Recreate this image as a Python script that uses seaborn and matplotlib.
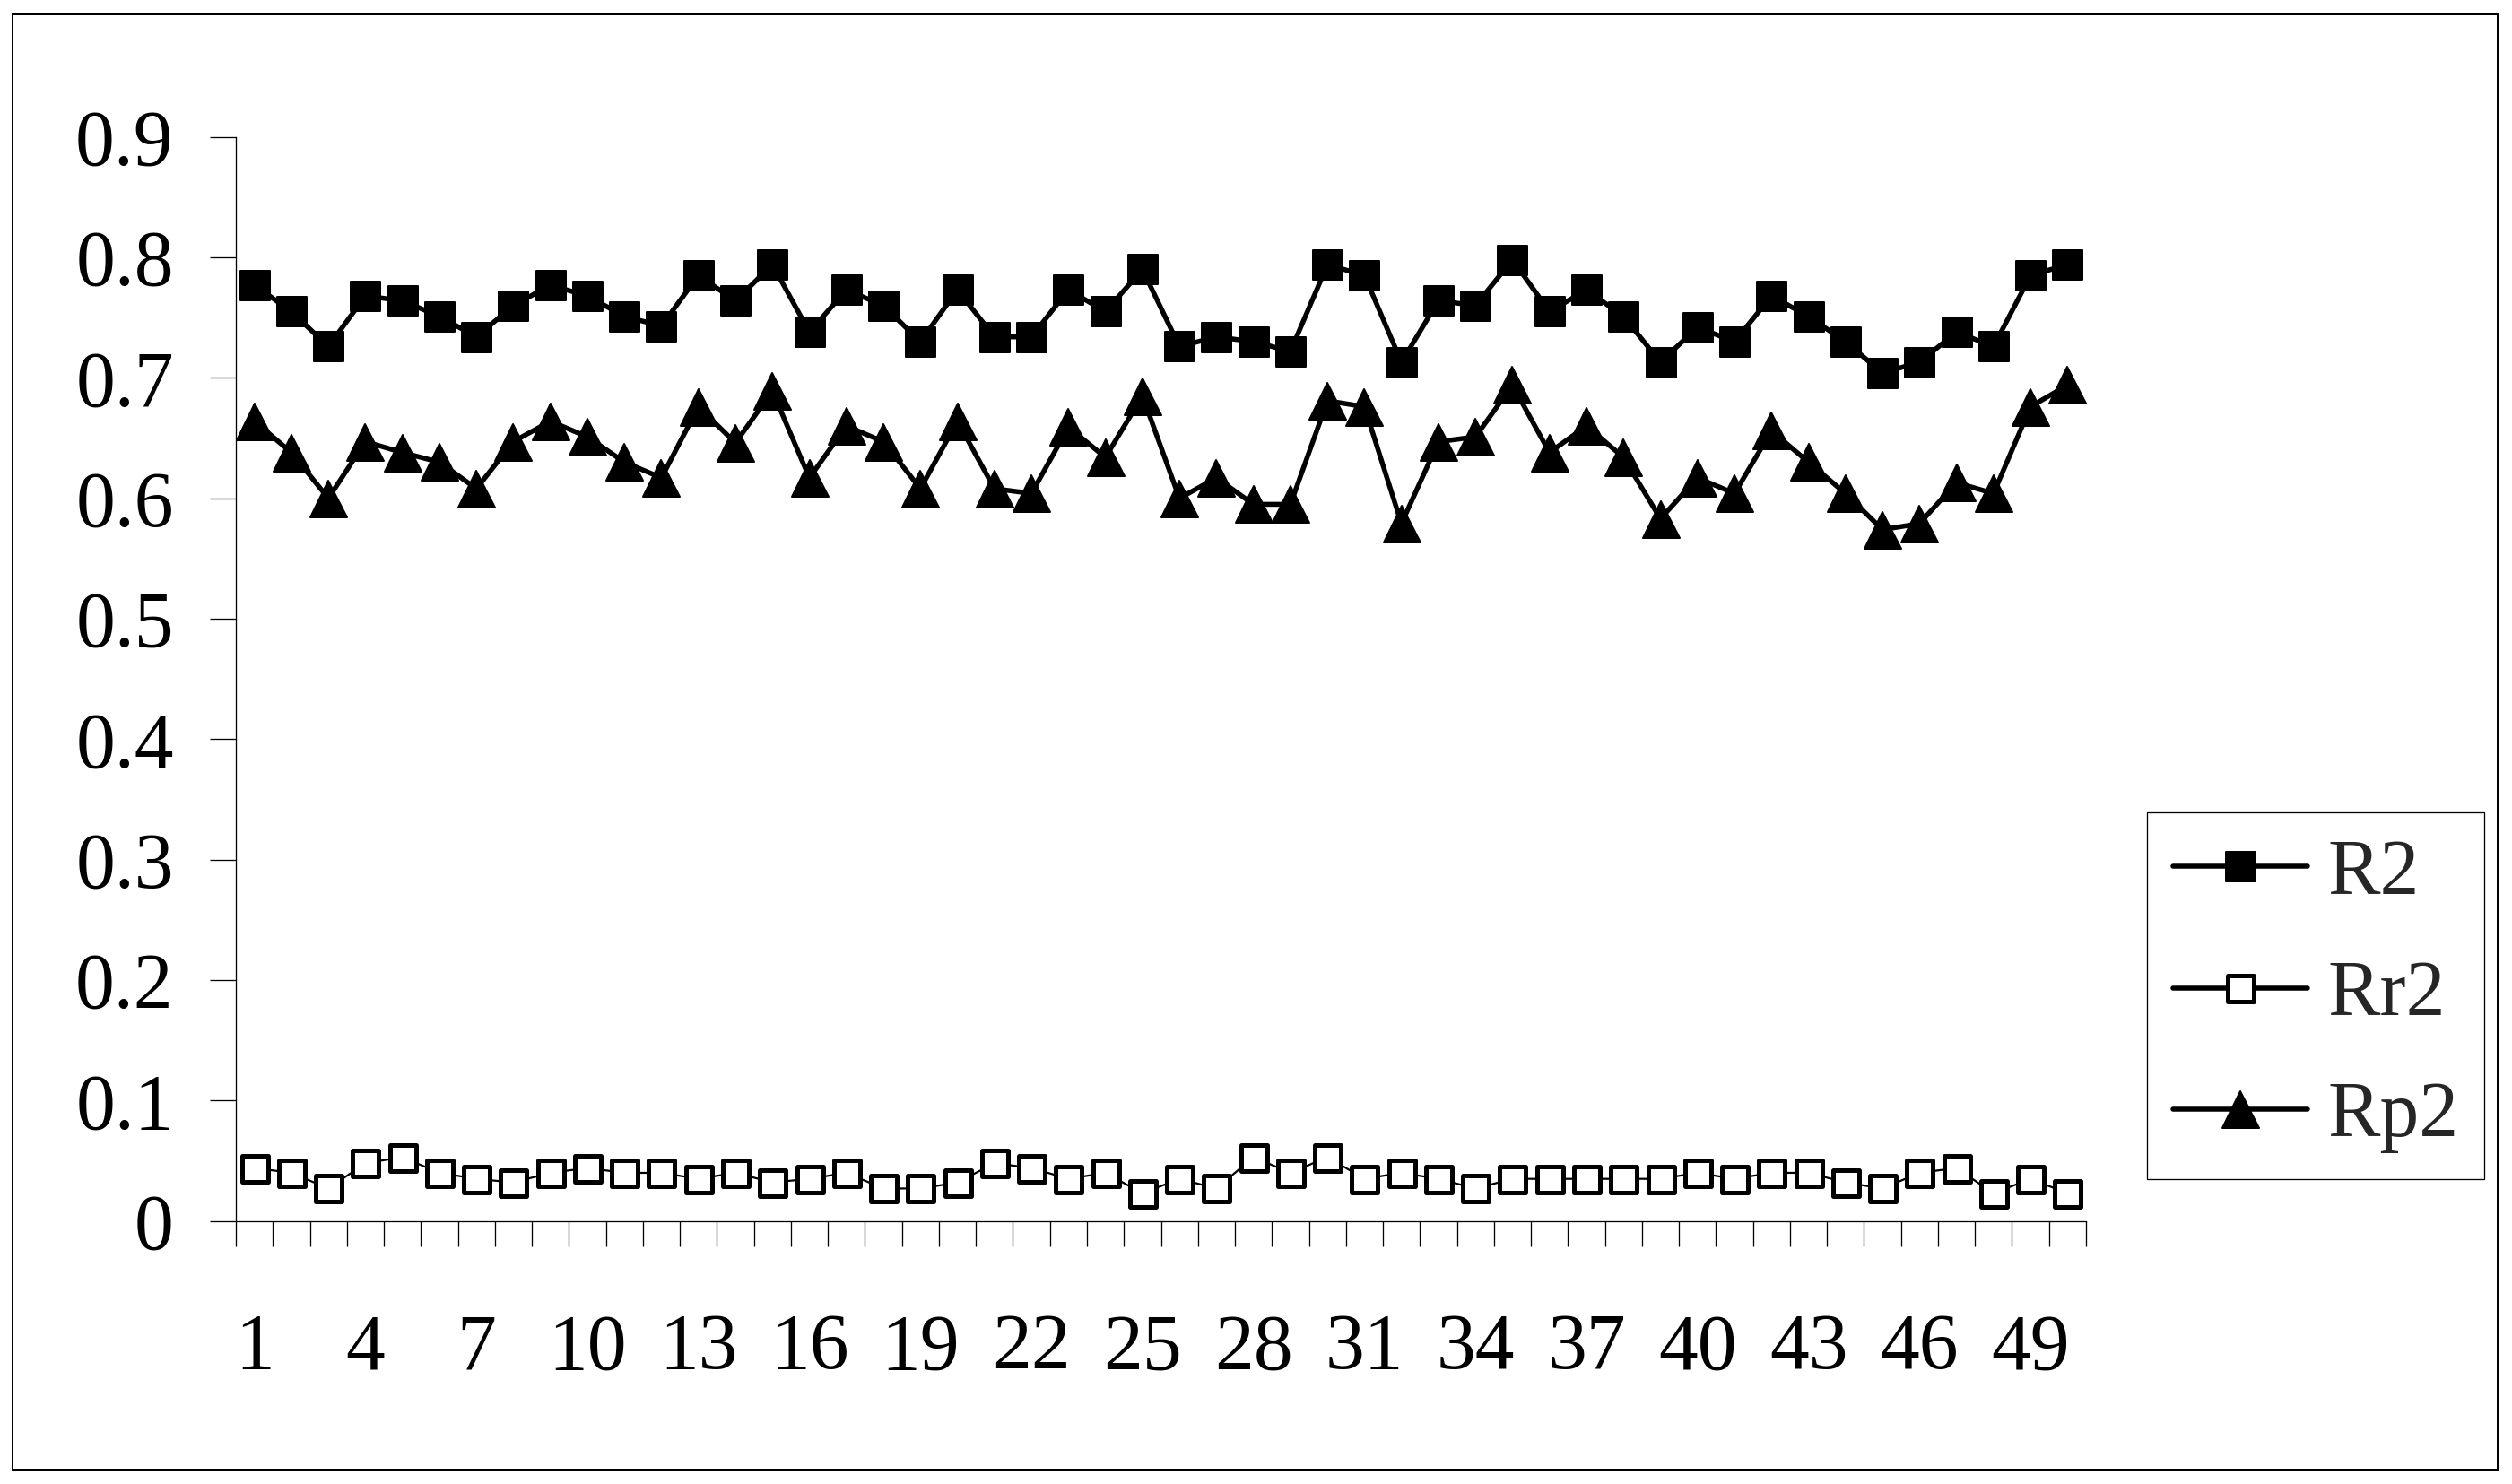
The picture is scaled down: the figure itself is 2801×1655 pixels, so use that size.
import numpy as np
import pandas as pd
import matplotlib
matplotlib.use("Agg")
import matplotlib.pyplot as plt
from matplotlib.markers import MarkerStyle
from matplotlib.patches import Rectangle
from matplotlib.ticker import FixedLocator, FixedFormatter
import seaborn as sns

# ---------------- data ----------------
samples = list(range(1, 51))

R2 = [0.777, 0.755, 0.726, 0.768, 0.764, 0.751, 0.734, 0.760, 0.777, 0.768,
      0.751, 0.743, 0.785, 0.764, 0.794, 0.738, 0.773, 0.760, 0.730, 0.773,
      0.734, 0.734, 0.773, 0.755, 0.790, 0.726, 0.734, 0.730, 0.722, 0.794,
      0.785, 0.713, 0.764, 0.760, 0.798, 0.755, 0.773, 0.751, 0.713, 0.742,
      0.730, 0.768, 0.751, 0.730, 0.704, 0.713, 0.738, 0.726, 0.785, 0.794]

Rr2 = [0.044, 0.040, 0.027, 0.048, 0.053, 0.040, 0.035, 0.032, 0.040, 0.044,
       0.040, 0.040, 0.035, 0.040, 0.032, 0.035, 0.040, 0.027, 0.027, 0.032,
       0.048, 0.044, 0.035, 0.040, 0.023, 0.035, 0.027, 0.053, 0.040, 0.053,
       0.035, 0.040, 0.035, 0.027, 0.035, 0.035, 0.035, 0.035, 0.035, 0.040,
       0.035, 0.040, 0.040, 0.032, 0.027, 0.040, 0.044, 0.023, 0.035, 0.023]

Rp2 = [0.664, 0.638, 0.600, 0.647, 0.638, 0.630, 0.608, 0.647, 0.664, 0.651,
       0.630, 0.617, 0.676, 0.646, 0.689, 0.617, 0.660, 0.647, 0.608, 0.664,
       0.608, 0.604, 0.659, 0.634, 0.685, 0.600, 0.617, 0.595, 0.595, 0.681,
       0.676, 0.579, 0.647, 0.651, 0.694, 0.638, 0.660, 0.634, 0.583, 0.617,
       0.604, 0.656, 0.630, 0.604, 0.574, 0.579, 0.613, 0.604, 0.676, 0.694]

series_names = ["R2", "Rr2", "Rp2"]
x_tick_labels = [str(v) for v in range(1, 51, 3)]
y_tick_values = [0, 0.1, 0.2, 0.3, 0.4, 0.5, 0.6, 0.7, 0.8, 0.9]
y_tick_labels = ["0", "0.1", "0.2", "0.3", "0.4", "0.5", "0.6", "0.7", "0.8", "0.9"]

# ---------------- style ----------------
sns.set_style("white")
plt.rcParams["font.family"] = ["Liberation Serif", "DejaVu Serif"]
plt.rcParams["font.size"] = 63

PX = 72.0 / 100.0  # points per pixel at dpi 100

fig = plt.figure(figsize=(28.01, 16.55), dpi=100)
fig.patch.set_facecolor("white")
ax_top, ax_bot = 152.7, 1361.7
ax = fig.add_axes([263 / 2801, 1 - ax_bot / 1655, (2326 - 263) / 2801, (ax_bot - ax_top) / 1655])
ax.set_facecolor("white")

df = pd.DataFrame({"sample": samples, "R2": R2, "Rr2": Rr2, "Rp2": Rp2})

sq = MarkerStyle("s", joinstyle="round")
tri = MarkerStyle("^", joinstyle="round")

sns.lineplot(data=df, x="sample", y="R2", ax=ax, color="black", errorbar=None,
             linewidth=5.5 * PX, marker=sq, markersize=33 * PX,
             markerfacecolor="black", markeredgecolor="black",
             markeredgewidth=2 * PX, label="R2", legend=False)
sns.lineplot(data=df, x="sample", y="Rr2", ax=ax, color="black", errorbar=None,
             linewidth=2.2 * PX, marker=sq, markersize=29 * PX,
             markerfacecolor="white", markeredgecolor="black",
             markeredgewidth=5 * PX, label="Rr2", legend=False)
sns.lineplot(data=df, x="sample", y="Rp2", ax=ax, color="black", errorbar=None,
             linewidth=5.5 * PX, marker=tri, markersize=41 * PX,
             markerfacecolor="black", markeredgecolor="black",
             markeredgewidth=2 * PX, label="Rp2", legend=False)

# ---------------- axes ----------------
ax.set_xlim(0.5, 50.5)
ax.set_ylim(0, 0.9)
ax.set_xlabel("")
ax.set_ylabel("")
for s in ["top", "right"]:
    ax.spines[s].set_visible(False)
for s in ["left", "bottom"]:
    ax.spines[s].set_visible(True)
    ax.spines[s].set_color("black")
    ax.spines[s].set_linewidth(1.3 * PX)

ax.xaxis.set_major_locator(FixedLocator(list(range(1, 51, 3))))
ax.xaxis.set_major_formatter(FixedFormatter(x_tick_labels))
ax.xaxis.set_minor_locator(FixedLocator([i + 0.5 for i in range(0, 51)]))
ax.tick_params(axis="x", which="major", length=0, pad=74, labelsize=63, colors="black")
ax.tick_params(axis="x", which="minor", direction="out", length=28 * PX,
               width=1.3 * PX, color="black", bottom=True)

ax.yaxis.set_major_locator(FixedLocator(y_tick_values))
ax.yaxis.set_major_formatter(FixedFormatter(y_tick_labels))
ax.tick_params(axis="y", which="major", direction="out", length=29 * PX,
               width=1.3 * PX, pad=29, labelsize=63, colors="black", left=True)
ax.grid(False)

# ---------------- legend ----------------
handles, labels = ax.get_legend_handles_labels()
leg = ax.legend(handles, labels, loc="upper left",
                bbox_to_anchor=(2394 / 2801, 1 - 906 / 1655),
                bbox_transform=fig.transFigure, borderaxespad=0,
                frameon=True, fancybox=False, shadow=False, framealpha=1,
                edgecolor="black", fontsize=63, handlelength=1.72,
                handletextpad=0.25, labelspacing=0.62, borderpad=0.33)
leg.get_frame().set_linewidth(1.3 * PX)
for ln in leg.get_lines():
    ln.set_linewidth(5.5 * PX)

# ---------------- outer chart border ----------------
fig.patches.append(Rectangle((13.7 / 2801, 1 - 1639 / 1655),
                             (2785 - 13.7) / 2801, (1639 - 15.7) / 1655,
                             transform=fig.transFigure, fill=False,
                             edgecolor="black", linewidth=2 * PX, zorder=10))

fig.savefig("out.png", dpi=100, facecolor="white")
